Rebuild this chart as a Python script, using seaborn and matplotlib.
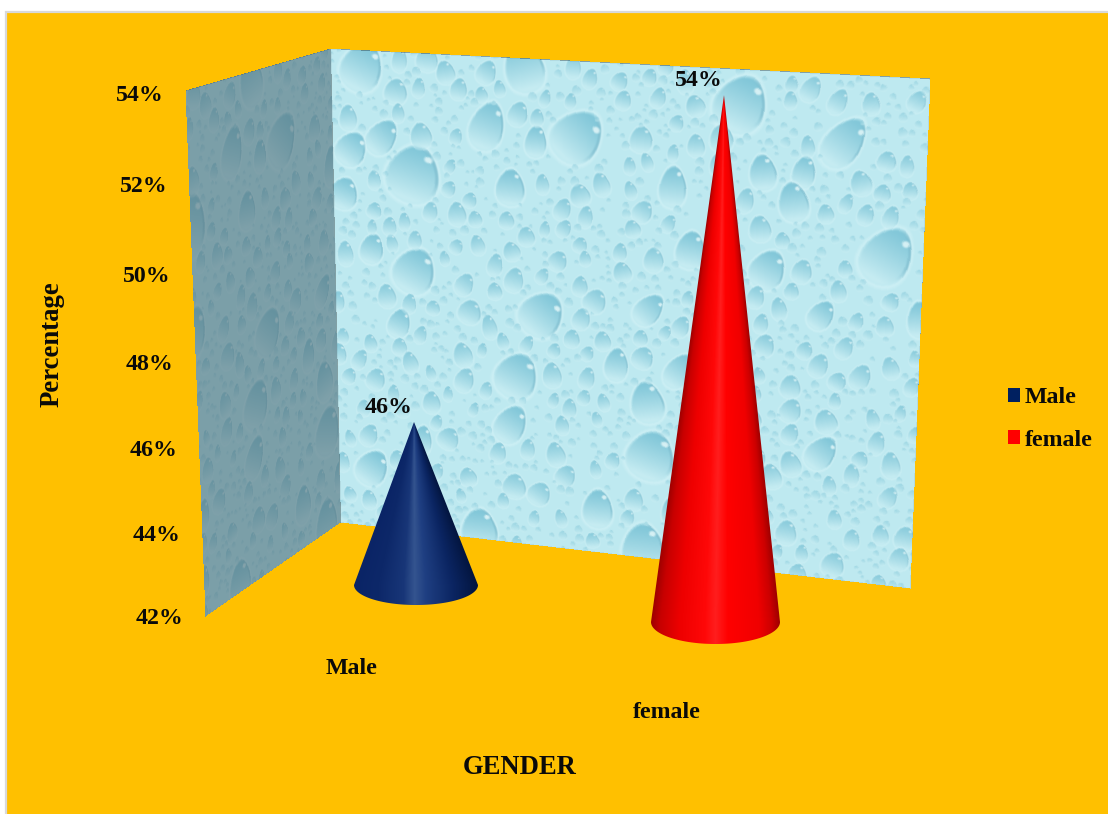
import numpy as np
import pandas as pd
import matplotlib
matplotlib.use("Agg")
import matplotlib.pyplot as plt
from matplotlib.colors import LinearSegmentedColormap
from matplotlib.patches import Patch, PathPatch, Rectangle
from matplotlib.path import Path
import seaborn as sns

# Values
genders = ["Male", "female"]
percentages = [46, 54]
axis_ticks = [42, 44, 46, 48, 50, 52, 54]
legend_colors = ["#002060", "#FF0000"]

W, H = 1108, 814
AXIS_MIN, AXIS_MAX = 42, 54

sns.set_theme(style="white")
plt.rcParams["font.family"] = ["Liberation Serif", "DejaVu Serif"]
plt.rcParams["font.weight"] = "bold"
plt.rcParams["text.color"] = "#0A0A0A"

# Scene geometry in pixels: the two walls of the 3-D box
BACK_WALL = [(330, 48), (930, 78), (910, 588), (340, 522)]
SIDE_WALL = [(185, 90), (330, 48), (340, 522), (205, 616)]

# Perspective placement of each cone on the floor
CONES = {
    "Male": dict(cx=416, base=585, half=62, depth=20, px_per_unit=40.75, lean=-2,
                 stops=[(0, "#0A2466"), (0.2, "#0D2869"), (0.4, "#183678"), (0.49, "#34548F"),
                        (0.58, "#1F3F82"), (0.8, "#0B2562"), (1, "#03153F")],
                 label=(352, 669)),
    "female": dict(cx=715.5, base=622, half=64.5, depth=22, px_per_unit=43.9, lean=8.5,
                   stops=[(0, "#A00000"), (0.07, "#C80000"), (0.22, "#EE0000"), (0.42, "#FF0808"),
                          (0.5, "#FF1E1E"), (0.6, "#FF0000"), (0.84, "#F00000"), (0.94, "#CC0000"),
                          (1, "#A00000")],
                   label=(667, 713)),
}


def homography(quad):
    """Matrix sending the unit square to a quadrilateral (TL, TR, BR, BL)."""
    src = [(0, 0), (1, 0), (1, 1), (0, 1)]
    rows, rhs = [], []
    for (u, v), (x, y) in zip(src, quad):
        rows.append([u, v, 1, 0, 0, 0, -u * x, -v * x])
        rows.append([0, 0, 0, u, v, 1, -u * y, -v * y])
        rhs += [x, y]
    return np.append(np.linalg.solve(np.array(rows, float), np.array(rhs, float)), 1).reshape(3, 3)


def stamp_drop(img, cx, cy, a, b, angle, strength):
    """Paint one shaded water drop on the texture."""
    reach = int(max(a, b) * 1.3) + 2
    x0, x1 = max(int(cx) - reach, 0), min(int(cx) + reach, img.shape[1])
    y0, y1 = max(int(cy) - reach, 0), min(int(cy) + reach, img.shape[0])
    if x0 >= x1 or y0 >= y1:
        return
    yy, xx = np.mgrid[y0:y1, x0:x1]
    dx, dy = xx - cx, yy - cy
    c, s = np.cos(angle), np.sin(angle)
    u = (c * dx + s * dy) / a
    v = (-s * dx + c * dy) / b
    # narrower crown, broad base that melts into the surface
    u_shape = u / (1.0 + 0.22 * v)
    r = np.sqrt(u_shape ** 2 + v ** 2)
    patch = img[y0:y1, x0:x1]

    halo = np.clip((1.14 - r) / 0.14, 0, 1) * np.clip((r - 0.92) / 0.08, 0, 1)
    patch += (np.array([222, 247, 250.0]) - patch) * (halo * 0.5 * strength)[..., None]

    body = np.clip((1.0 - r) / 0.14, 0, 1) * strength
    g = np.clip((v + 0.8) / 1.6, 0, 1) ** 1.1
    teal = np.array([128, 198, 216.0])
    pale = np.array([198, 236, 242.0])
    colour = teal[None, None, :] + (pale - teal)[None, None, :] * g[..., None]
    patch += (colour - patch) * body[..., None]

    rim = np.clip((r - 0.82) / 0.08, 0, 1) * np.clip((1.0 - r) / 0.05, 0, 1)
    rim *= np.clip((u + 0.05) / 0.5, 0, 1) * np.clip((0.5 - v) / 0.5, 0, 1)
    patch += (np.array([112, 178, 198.0]) - patch) * (rim * 0.6 * strength)[..., None]

    hx, hy = (u - 0.4) / 0.2, (v + 0.62) / 0.13
    glint = np.clip((1.0 - np.sqrt(hx ** 2 + hy ** 2)) / 0.5, 0, 1)
    patch += (np.array([232, 249, 250.0]) - patch) * (glint * 0.85 * strength)[..., None]


def drop_texture(width, height, seed=11):
    """Paint a water-drop surface, larger drops first, spaced out by rejection."""
    rng = np.random.default_rng(seed)
    s = 2
    img = np.zeros((height * s, width * s, 3)) + np.array([190, 233, 240.0])
    placed = []
    # (count, smallest radius, largest radius, strength)
    classes = [(42, 15, 29, 0.95), (240, 7.5, 13, 0.8), (900, 2, 5, 0.5)]
    for count, rmin, rmax, strength in classes:
        made, tries = 0, 0
        while made < count and tries < count * 60:
            tries += 1
            r = rng.uniform(rmin, rmax)
            x, y = rng.uniform(0, width), rng.uniform(0, height)
            if any((x - px) ** 2 + (y - py) ** 2 < ((r + pr) * 0.92) ** 2 for px, py, pr, _ in placed):
                continue
            placed.append((x, y, r, strength))
            made += 1
    for x, y, r, strength in placed:
        a = r / rng.uniform(1.0, 1.5) if r > 7 else r
        tilt = rng.uniform(-0.25, 0.75) if r > 13 else rng.uniform(-0.3, 0.5)
        stamp_drop(img, x * s, y * s, a * s, r * 1.1 * s, tilt, strength)
    # print-like softening
    kernel = np.array([1, 4, 6, 4, 1.0]) / 16
    for axis in (0, 1):
        img = np.apply_along_axis(lambda m: np.convolve(m, kernel, mode="same"), axis, img)
    return img / 255


def warp_onto(canvas, tex, quad, u_span=(0, 1), tint=None, flatten=0.0):
    """Project a texture on a wall quadrilateral of the RGBA canvas."""
    inv = np.linalg.inv(homography(quad))
    yy, xx = np.mgrid[0:H, 0:W]
    den = inv[2, 0] * xx + inv[2, 1] * yy + inv[2, 2]
    u = (inv[0, 0] * xx + inv[0, 1] * yy + inv[0, 2]) / den
    v = (inv[1, 0] * xx + inv[1, 1] * yy + inv[1, 2]) / den
    inside = (u >= 0) & (u <= 1) & (v >= 0) & (v <= 1)
    h, w = tex.shape[:2]
    tu = (u_span[0] + u[inside] * (u_span[1] - u_span[0])) * (w - 1)
    tv = v[inside] * (h - 1)
    rgb = tex[tv.astype(int), tu.astype(int)]
    if tint is not None:
        mean = rgb.mean(axis=0)
        rgb = np.array(tint) * (1 + (rgb / mean - 1) * (1 - flatten))
    canvas[inside, :3] = np.clip(rgb, 0, 1)
    canvas[inside, 3] = 1


def axis_point(value):
    """Point of the box's front vertical edge for an axis value (projective along y)."""
    t = (value - AXIS_MIN) / (AXIS_MAX - AXIS_MIN)
    y = (619 - 528.8 * t) / (1 - 0.052 * t)
    x = 160 - 20 * t
    return x, y


fig = plt.figure(figsize=(W / 100, H / 100), dpi=100, facecolor="white")
scene = fig.add_axes([0, 0, 1, 1])
scene.set_xlim(0, W)
scene.set_ylim(H, 0)
scene.axis("off")

# Chart area
scene.add_patch(Rectangle((5.5, 11.5), W, H, facecolor="#FFC000", edgecolor="#D9D9D9", lw=1.6))

# Textured walls
texture = drop_texture(600, 510)
canvas = np.zeros((H, W, 4))
warp_onto(canvas, texture, BACK_WALL)
warp_onto(canvas, texture, SIDE_WALL, u_span=(0.15, 0.6),
          tint=(120 / 255, 157 / 255, 167 / 255), flatten=0.45)
scene.imshow(canvas, extent=(0, W, H, 0), interpolation="bilinear", aspect="auto", zorder=2)
scene.set_xlim(0, W)
scene.set_ylim(H, 0)

# Value axis
for tick in axis_ticks:
    x, y = axis_point(tick)
    scene.text(x, y, f"{tick}%", ha="center", va="center", fontsize=17.2, zorder=3)
scene.text(52, 344, "Percentage", rotation=90, ha="center", va="center", fontsize=19.3, zorder=3)
scene.text(519.5, 768, "GENDER", ha="center", va="center", fontsize=19.2, zorder=3)

# Cones: each one gets its own axes scaled for its depth in the box
data = pd.DataFrame({"gender": genders, "percentage": percentages})
for colour, row in zip(legend_colors, data.itertuples()):
    cone = CONES[row.gender]
    unit = cone["px_per_unit"]
    top_px = cone["base"] - (AXIS_MAX - AXIS_MIN) * unit
    bottom_px = cone["base"] + cone["depth"] + 2
    ax = fig.add_axes([(cone["cx"] - cone["half"]) / W, 1 - bottom_px / H,
                       2 * cone["half"] / W, (bottom_px - top_px) / H])
    ax.patch.set_alpha(0)
    sns.barplot(data=data[data.gender == row.gender], x="gender", y="percentage",
                color=colour, width=1, ax=ax)
    bar = ax.patches[0]
    left, width, value = bar.get_x(), bar.get_width(), bar.get_height()
    bar.set_visible(False)
    centre = left + width / 2
    y_floor = AXIS_MIN - cone["depth"] / unit
    y_low = AXIS_MIN - (cone["depth"] + 2) / unit
    apex_x = centre + cone["lean"] / (2 * cone["half"]) * width

    # Outline: apex, then around the elliptical base
    theta = np.linspace(0, np.pi, 80)
    arc_x = centre + width / 2 * np.cos(theta)
    arc_y = AXIS_MIN + (y_floor - AXIS_MIN) * np.sin(theta)
    outline = np.column_stack([np.r_[apex_x, arc_x, apex_x], np.r_[value, arc_y, value]])

    # Shading runs along the generator lines of the cone
    gx, gy = np.meshgrid(np.linspace(left, left + width, 260), np.linspace(y_low, AXIS_MAX, 1000))
    s = np.clip((value - gy) / (value - AXIS_MIN), 1e-3, 1)
    t = (gx - (apex_x + (centre - apex_x) * s)) / (width / 2 * s)
    cmap = LinearSegmentedColormap.from_list(f"shade_{row.gender}", cone["stops"])
    image = ax.imshow(t, cmap=cmap, vmin=-1, vmax=1, origin="lower", aspect="auto",
                      extent=(left, left + width, y_low, AXIS_MAX))
    clip = PathPatch(Path(outline), transform=ax.transData, facecolor="none", edgecolor="none")
    ax.add_patch(clip)
    image.set_clip_path(clip)
    ax.set_xlim(left, left + width)
    ax.set_ylim(y_low, AXIS_MAX)
    ax.axis("off")

    # Data label, just left of the tip
    ax.annotate(f"{row.percentage}%", xy=(apex_x, value), xytext=(-25 * 0.72, 15 * 0.72),
                textcoords="offset points", ha="center", va="center",
                fontsize=17.2, annotation_clip=False)
    scene.text(*cone["label"], row.gender, ha="center", va="center", fontsize=17.2, zorder=3)

# Legend
handles = [Patch(facecolor=c, edgecolor="none", label=g) for c, g in zip(legend_colors, genders)]
scene.legend(handles=handles, loc="center left", bbox_to_anchor=(1008, 419),
             bbox_transform=scene.transData, frameon=False, fontsize=17.2,
             handlelength=0.5, handleheight=0.5, handletextpad=0.2, labelspacing=0.9,
             borderpad=0, borderaxespad=0).set_zorder(5)

fig.savefig("out.png", dpi=100, facecolor="white")
